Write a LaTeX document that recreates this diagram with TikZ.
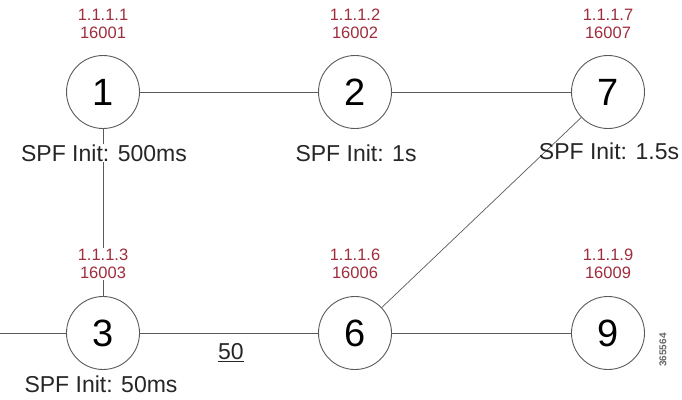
\documentclass[tikz,border=0pt]{standalone}
\usepackage{fontspec}
\setmainfont{Liberation Sans}
\definecolor{addr}{RGB}{160,45,60}
\definecolor{edge}{RGB}{90,90,90}
\begin{document}
\begin{tikzpicture}[x=1pt,y=-1pt,
  router/.style={circle,draw=edge,line width=0.9pt,minimum size=73pt,inner sep=0pt,fill=white,font=\fontsize{38}{40}\selectfont},
  link/.style={draw=edge,line width=0.7pt},
  addrlbl/.style={text=addr,font=\fontsize{16.5}{18.5}\selectfont,align=center,inner sep=1pt,fill=white},
  spf/.style={font=\fontsize{23}{24}\selectfont,inner sep=1pt,text=black!85},
  spfw/.style={spf,fill=white}]
\useasboundingbox (0,0) rectangle (682,399);
\node[router] (n1) at (103,92) {1};
\node[router] (n2) at (355,92) {2};
\node[router] (n7) at (608,92) {7};
\node[router] (n3) at (103,333) {3};
\node[router] (n6) at (355,333) {6};
\node[router] (n9) at (608,333) {9};
\coordinate (left) at (0,333);
\draw[link] (n1) -- (n2);
\draw[link] (n2) -- (n7);
\draw[link] (n1) -- (n3);
\draw[link] (left) -- (n3);
\draw[link] (n3) -- (n6);
\draw[link] (n6) -- (n9);
\draw[link] (n6) -- (n7);
\node[addrlbl] (a1) at (103,24) {1.1.1.1\\16001};
\node[addrlbl] (a2) at (355,24) {1.1.1.2\\16002};
\node[addrlbl] (a7) at (608,24) {1.1.1.7\\16007};
\node[addrlbl] (a3) at (103,264) {1.1.1.3\\16003};
\node[addrlbl] (a6) at (355,264) {1.1.1.6\\16006};
\node[addrlbl] (a9) at (608,264) {1.1.1.9\\16009};
\node[spfw] (s1) at (104,153) {SPF Init: 500ms};
\node[spfw] (s2) at (356,153) {SPF Init: 1s};
\node[spf] (s7) at (609,151) {SPF Init: 1.5s};
\node[spfw] (s3) at (101,384) {SPF Init: 50ms};
\node[spf] (w36) at (231,353) {\underline{50}};
\node[font=\fontsize{10}{11}\selectfont\bfseries,text=black!60,rotate=90,inner sep=0pt] (fig) at (663,350) {365564};
\end{tikzpicture}
\end{document}
